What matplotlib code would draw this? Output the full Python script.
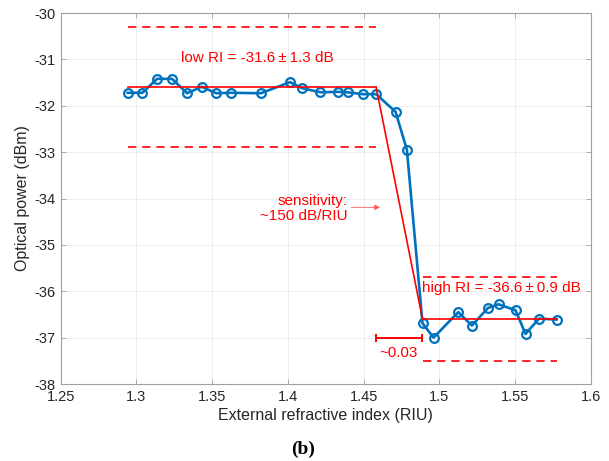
import numpy as np
import matplotlib
matplotlib.use("Agg")
import matplotlib.pyplot as plt

#DATA
ri = [1.2942, 1.3039, 1.3136, 1.3235, 1.3334, 1.3431, 1.3526, 1.3625,
      1.3821, 1.4014, 1.4093, 1.4214, 1.4333, 1.4393, 1.4494, 1.4582,
      1.4710, 1.4785, 1.4888, 1.4961, 1.5124, 1.5214, 1.5320, 1.5390,
      1.5502, 1.5568, 1.5657, 1.5773]
power = [-31.72, -31.72, -31.42, -31.42, -31.73, -31.59, -31.73, -31.72,
         -31.73, -31.49, -31.62, -31.71, -31.70, -31.71, -31.75, -31.75,
         -32.13, -32.95, -36.69, -37.00, -36.45, -36.74, -36.36, -36.28,
         -36.41, -36.92, -36.59, -36.61]

low_mean, low_spread = -31.6, 1.3
high_mean, high_spread = -36.6, 0.9
low_range = (ri[0], ri[15])     # plateau at low RI
high_range = (ri[18], ri[27])   # plateau at high RI
transition_width = 0.03
sensitivity = 150

x_ticks = [1.25, 1.3, 1.35, 1.4, 1.45, 1.5, 1.55, 1.6]
y_ticks = [-30, -31, -32, -33, -34, -35, -36, -37, -38]

#STYLE
plt.rcParams["font.family"] = ["Liberation Sans", "DejaVu Sans"]
plt.rcParams["axes.unicode_minus"] = False

BLUE = "#0072BD"
RED = "#FF0000"
GREY = "#262626"
DASH = (0, (5, 3.5))
PM = "\u2009\u00b1\u2009"

fig = plt.figure(figsize=(6.09, 4.61), dpi=100)
ax = fig.add_axes([0.0997, 0.167, 0.8707, 0.8048])

ax.plot(ri, power, color=BLUE, lw=1.9, marker="o", ms=6.3,
        mfc="none", mec=BLUE, mew=1.6, zorder=3)

#mean levels and +/- spread
ax.plot(low_range, [low_mean] * 2, color=RED, lw=1.2, zorder=4)
ax.plot(low_range, [low_mean + low_spread] * 2, color=RED, lw=1.2, ls=DASH)
ax.plot(low_range, [low_mean - low_spread] * 2, color=RED, lw=1.2, ls=DASH)
ax.plot(high_range, [high_mean] * 2, color=RED, lw=1.2, zorder=4)
ax.plot(high_range, [high_mean + high_spread] * 2, color=RED, lw=1.2, ls=DASH)
ax.plot(high_range, [high_mean - high_spread] * 2, color=RED, lw=1.2, ls=DASH)

#slope between the two plateaus
ax.plot([low_range[1], high_range[0]], [low_mean, high_mean], color=RED, lw=1.2, zorder=4)

#transition width bar
bar_x = low_range[1] + transition_width / 2
ax.errorbar(bar_x, -37.0, xerr=transition_width / 2, color=RED, lw=1.4,
            capsize=3, capthick=1.4, fmt="none")
ax.text(bar_x, -37.33, f"~{transition_width:.2f}", color=RED, fontsize=11,
        ha="center", va="center")

ax.text(1.3796, -30.97, f"low RI = {low_mean:.1f}{PM}{low_spread:.1f} dB",
        color=RED, fontsize=11, ha="center", va="center")
ax.text(1.4884, -35.93, f"high RI = {high_mean:.1f}{PM}{high_spread:.1f} dB",
        color=RED, fontsize=11, ha="left", va="center")

ax.text(1.4395, -34.21, f"sensitivity:\n~{sensitivity} dB/RIU", color=RED,
        fontsize=11, ha="right", va="center", linespacing=1.1)
ax.annotate("", xy=(1.4626, -34.19), xytext=(1.4400, -34.19),
            arrowprops=dict(arrowstyle="-|>", color="#ff5a5a", lw=0.6,
                            mutation_scale=8))

#AXES
ax.set_xlim(1.25, 1.6)
ax.set_ylim(-38, -30)
ax.set_xticks(x_ticks)
ax.set_xticklabels([f"{t:g}" for t in x_ticks])
ax.set_yticks(y_ticks)
ax.grid(True, color="#ebebeb", lw=0.6)
ax.set_axisbelow(True)
for s in ax.spines.values():
    s.set_color("#a0a0a0")
    s.set_linewidth(0.8)
ax.tick_params(direction="in", length=3.5, width=0.6, color="#a0a0a0",
               top=True, right=True, labelsize=10.5, labelcolor=GREY, pad=4)

ax.set_xlabel("External refractive index (RIU)", fontsize=11.5, color=GREY, labelpad=3)
ax.set_ylabel("Optical power (dBm)", fontsize=11.5, color=GREY, labelpad=3)

fig.text(0.4975, 0.026, "(b)", fontsize=14, fontweight="bold",
         family="Liberation Serif", ha="center", va="center")

plt.savefig("out.png", dpi=100)
